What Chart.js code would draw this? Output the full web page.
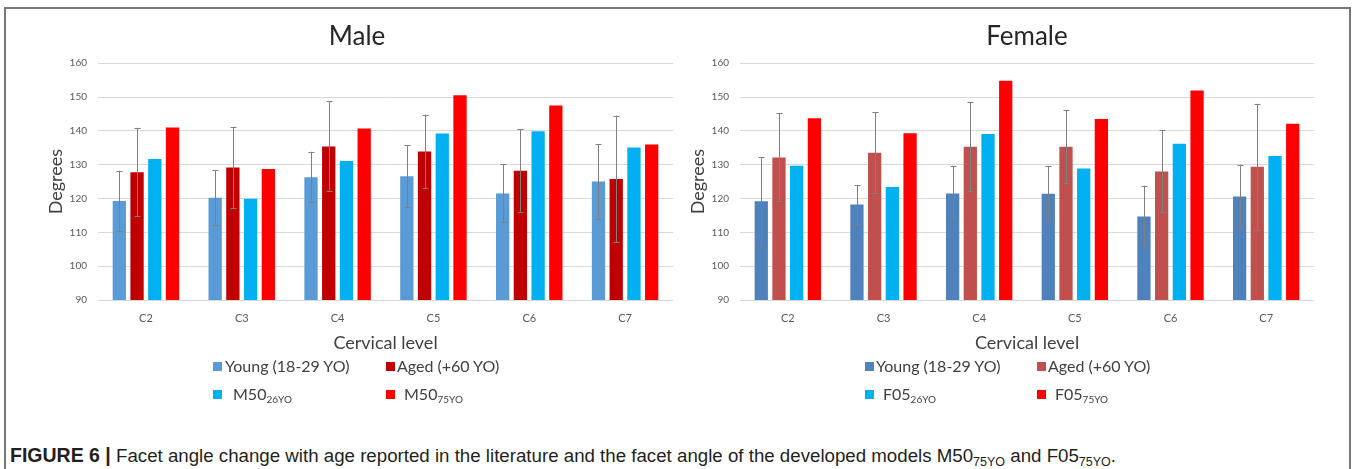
<!DOCTYPE html>
<html>
<head>
<meta charset="utf-8">
<script src="https://cdn.jsdelivr.net/npm/chart.js@4"></script>
<style>
  body { margin: 0; background: #fff; width: 1355px; height: 469px; overflow: hidden; position: relative; font-family: Lato, sans-serif; }
  .frame { position: absolute; left: 4px; top: 7px; width: 1343px; height: 480px; border: 2px solid #777; }
  canvas { position: absolute; }
  .sq { position: absolute; width: 9px; height: 9px; }
  .lab { position: absolute; font-size: 16px; line-height: 20px; color: #404040; white-space: nowrap; }
  .lab sub { font-size: 10px; vertical-align: -3px; line-height: 0; }
  .caption { position: absolute; left: 10px; top: 445px; font-family: "Liberation Sans", Arial, sans-serif; font-size: 18.7px; line-height: 20px; color: #231f20; white-space: nowrap; }
  .caption b { font-size: 19.5px; }
  .caption sub { font-size: 12.5px; vertical-align: -4px; line-height: 0; }
</style>
</head>
<body>
<div class="frame"></div>
<canvas id="male" width="663" height="348" style="left:10px;top:10px"></canvas>
<canvas id="female" width="634" height="348" style="left:680px;top:10px"></canvas>
<div id="legends"></div>
<div class="caption"><b>FIGURE 6 |</b> Facet angle change with age reported in the literature and the facet angle of the developed models M50<sub>75YO</sub> and F05<sub>75YO</sub>.</div>

<script>
const levels = ["C2", "C3", "C4", "C5", "C6", "C7"]

// Male
const maleYoung   = [119.3, 120.2, 126.3, 126.6, 121.5, 125.0]
const maleYoungLo = [110.5, 112.2, 118.9, 117.6, 113.1, 114.0]
const maleYoungHi = [128.2, 128.3, 133.8, 135.8, 130.1, 136.0]
const maleAged    = [127.8, 129.2, 135.4, 133.9, 128.2, 125.8]
const maleAgedLo  = [114.9, 117.2, 122.3, 123.0, 116.1, 107.0]
const maleAgedHi  = [140.9, 141.2, 148.8, 144.8, 140.5, 144.5]
const m50_26      = [131.7, 119.9, 131.1, 139.2, 139.9, 135.1]
const m50_75      = [141.0, 128.7, 140.7, 150.5, 147.5, 136.0]

// Female
const femYoung    = [119.2, 118.2, 121.5, 121.4, 114.7, 120.6]
const femYoungLo  = [106.1, 112.5, 113.8, 113.5, 106.0, 111.2]
const femYoungHi  = [132.3, 124.0, 129.5, 129.6, 123.8, 130.0]
const femAged     = [132.1, 133.5, 135.3, 135.3, 128.0, 129.4]
const femAgedLo   = [119.3, 121.5, 122.1, 124.6, 116.0, 110.8]
const femAgedHi   = [145.2, 145.5, 148.5, 146.2, 140.2, 148.0]
const f05_26      = [129.7, 123.4, 139.1, 128.9, 136.2, 132.6]
const f05_75      = [143.7, 139.3, 154.8, 143.5, 151.9, 142.1]

const maleNames = ["Young (18-29 YO)", "Aged (+60 YO)", "M50", "M50"]
const maleSubs  = ["", "", "26YO", "75YO"]
const femNames  = ["Young (18-29 YO)", "Aged (+60 YO)", "F05", "F05"]
const femSubs   = ["", "", "26YO", "75YO"]

const maleColors = ["#5B9BD5", "#C00000", "#00B0F0", "#FF0000"]
const femColors  = ["#4F81BD", "#C0504D", "#00B0F0", "#FF0000"]

// error bars drawn on the bar elements, using the y scale
const errorBars = {
    id: "errorBars",
    afterDatasetsDraw(chart) {
        const ctx = chart.ctx
        const y = chart.scales.y
        ctx.save()
        ctx.strokeStyle = "#7f7f7f"
        ctx.lineWidth = 1
        chart.data.datasets.forEach((ds, i) => {
            if (!ds.errLo) return
            chart.getDatasetMeta(i).data.forEach((bar, j) => {
                const x = Math.round(bar.x) + 0.5
                const y1 = y.getPixelForValue(ds.errLo[j])
                const y2 = y.getPixelForValue(ds.errHi[j])
                ctx.beginPath()
                ctx.moveTo(x, y1); ctx.lineTo(x, y2)
                ctx.moveTo(x - 3, Math.round(y1) + 0.5); ctx.lineTo(x + 3, Math.round(y1) + 0.5)
                ctx.moveTo(x - 3, Math.round(y2) + 0.5); ctx.lineTo(x + 3, Math.round(y2) + 0.5)
                ctx.stroke()
            })
        })
        ctx.restore()
    }
}

function makeChart(id, title, series, colors, names, subs, padLeft, titleFull) {
    return new Chart(document.getElementById(id), {
        type: "bar",
        data: {
            labels: levels,
            datasets: series.map((s, i) => ({
                label: names[i] + subs[i],
                data: s.data,
                errLo: s.lo,
                errHi: s.hi,
                backgroundColor: colors[i],
                categoryPercentage: 0.74,
                barPercentage: 0.75
            }))
        },
        options: {
            responsive: false,
            animation: false,
            layout: { padding: { left: padLeft, right: 0, top: 0, bottom: 0 } },
            plugins: {
                legend: { display: false },
                tooltip: { enabled: false },
                title: {
                    display: true,
                    text: title,
                    fullSize: titleFull,
                    color: "#262626",
                    font: { family: "Lato", size: 26, weight: "normal" },
                    padding: { top: 11, bottom: 11 }
                }
            },
            scales: {
                x: {
                    afterFit(scale) { scale.height = 58 },
                    grid: { display: false, drawTicks: false },
                    border: { display: false },
                    ticks: { color: "#595959", font: { family: "Lato", size: 11 }, padding: 12 },
                    title: {
                        display: true,
                        text: "Cervical level",
                        color: "#404040",
                        font: { family: "Lato", size: 18 },
                        padding: { top: 7, bottom: 4 }
                    }
                },
                y: {
                    min: 90,
                    max: 160,
                    afterFit(scale) { scale.width = 57 },
                    grid: { color: "#d9d9d9", drawTicks: false },
                    border: { display: false },
                    ticks: { stepSize: 10, color: "#595959", font: { family: "Lato", size: 10 }, padding: 11 },
                    title: {
                        display: true,
                        text: "Degrees",
                        color: "#404040",
                        font: { family: "Lato", size: 18 },
                        padding: { top: 4, bottom: 4 }
                    }
                }
            }
        },
        plugins: [errorBars]
    })
}

makeChart("male", "Male", [
    { data: maleYoung, lo: maleYoungLo, hi: maleYoungHi },
    { data: maleAged, lo: maleAgedLo, hi: maleAgedHi },
    { data: m50_26 },
    { data: m50_75 }
], maleColors, maleNames, maleSubs, 31, true)

makeChart("female", "Female", [
    { data: femYoung, lo: femYoungLo, hi: femYoungHi },
    { data: femAged, lo: femAgedLo, hi: femAgedHi },
    { data: f05_26 },
    { data: f05_75 }
], femColors, femNames, femSubs, 3, false)

// html legends (subscripts)
function legend(names, subs, colors, spots) {
    const box = document.getElementById("legends")
    names.forEach((n, i) => {
        const s = spots[i]
        const sq = document.createElement("div")
        sq.className = "sq"
        sq.style.left = s[0] + "px"
        sq.style.top = s[1] + "px"
        sq.style.background = colors[i]
        box.appendChild(sq)
        const lab = document.createElement("div")
        lab.className = "lab"
        lab.style.left = s[2] + "px"
        lab.style.top = (s[1] - 6) + "px"
        lab.innerHTML = n + (subs[i] ? "<sub>" + subs[i] + "</sub>" : "")
        box.appendChild(lab)
    })
}

legend(maleNames, maleSubs, maleColors, [[213, 362, 225], [386, 362, 397], [213, 390, 233], [386, 390, 404]])
legend(femNames, femSubs, femColors, [[865, 362, 876], [1037, 362, 1048], [865, 390, 883], [1037, 390, 1055]])
</script>
</body>
</html>
